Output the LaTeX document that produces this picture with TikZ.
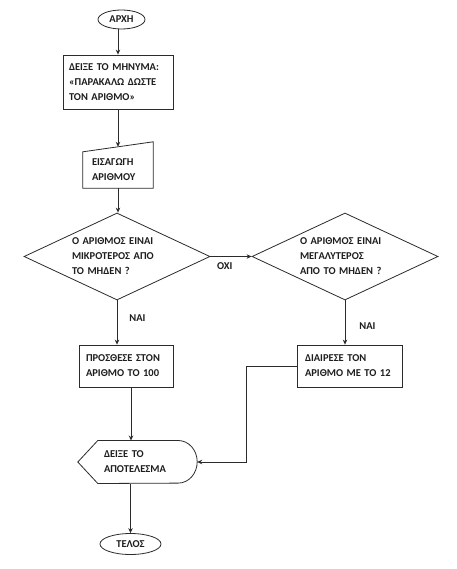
\documentclass[tikz,border=0pt]{standalone}
\usepackage{fontspec}
\setmainfont{Carlito}
\usepackage{xcolor}
\definecolor{cLine}{HTML}{2B2B2B}
\definecolor{cText}{HTML}{1E1E1E}
\usepackage{tikz}
\usetikzlibrary{positioning,arrows.meta,shapes.geometric,calc}
\tikzset{
  fc-font/.style={font=\fontsize{10.5}{15}\selectfont\bfseries,text=cText},
  node-term/.style={draw=cLine,line width=0.8pt,ellipse,inner sep=0pt,fc-font},
  node-box/.style={draw=cLine,line width=0.8pt,rectangle,inner sep=0pt,
    align=left,fc-font},
  node-dec/.style={draw=cLine,line width=0.8pt,diamond,aspect=2.14,
    inner sep=0pt,align=left,text width=90pt,fc-font},
  node-bare/.style={rectangle,inner sep=0pt,align=left,fc-font},
  node-lbl/.style={inner sep=0pt,fc-font},
  arrow/.style={-{Stealth[length=5pt,width=4.5pt]},line width=0.8pt,draw=cLine},
  outline/.style={line width=0.8pt,draw=cLine,line join=miter},
}

\begin{document}
\begin{tikzpicture}[x=1pt,y=-1pt]
  \useasboundingbox[fill=white] (0,0) rectangle (456,569);

  % main column
  \node[node-term,minimum width=47pt,minimum height=19pt] (start) at (121.5,19.5) {ΑΡΧΗ};
  \node[node-box,minimum width=110pt,minimum height=54pt,text width=98pt] (msg) at (118,82)
    {ΔΕΙΞΕ ΤΟ ΜΗΝΥΜΑ:\\«ΠΑΡΑΚΑΛΩ ΔΩΣΤΕ\\ΤΟΝ ΑΡΙΘΜΟ»};
  \node[node-bare,minimum width=70pt,minimum height=36pt,text width=52pt] (input) at (118,170)
    {ΕΙΣΑΓΩΓΗ\\ΑΡΙΘΜΟΥ};
  \draw[outline] (input.south west) -- (input.north west)
    -- ([yshift=10pt]input.north east) -- (input.south east) -- cycle;
  \coordinate (input-top) at ([yshift=5pt]input.north);

  \node[node-dec,minimum width=186pt,minimum height=87pt] (dec-neg) at (117,256.5)
    {Ο ΑΡΙΘΜΟΣ ΕΙΝΑΙ\\ΜΙΚΡΟΤΕΡΟΣ ΑΠΟ\\ΤΟ ΜΗΔΕΝ ?};
  \node[node-dec,minimum width=186pt,minimum height=87pt] (dec-pos) at (345,256.5)
    {Ο ΑΡΙΘΜΟΣ ΕΙΝΑΙ\\ΜΕΓΑΛΥΤΕΡΟΣ\\ΑΠΟ ΤΟ ΜΗΔΕΝ ?};

  \node[node-box,minimum width=94pt,minimum height=42pt,text width=80pt] (add) at (126,366)
    {ΠΡΟΣΘΕΣΕ ΣΤΟΝ\\ΑΡΙΘΜΟ ΤΟ 100};
  \node[node-box,minimum width=105pt,minimum height=42pt,text width=89pt] (div) at (349.5,366)
    {ΔΙΑΙΡΕΣΕ ΤΟΝ\\ΑΡΙΘΜΟ ΜΕ ΤΟ 12};

  \node[node-bare,minimum width=80pt,minimum height=42.6pt,text width=68pt] (show) at (138,462)
    {ΔΕΙΞΕ ΤΟ\\ΑΠΟΤΕΛΕΣΜΑ};
  \draw[outline] (show.north west) -- (show.north east)
    arc[start angle=90,end angle=-90,x radius=19pt,y radius=21.3pt]
    -- (show.south west) -- ([xshift=-20pt]show.west) -- cycle;
  \coordinate (show-right) at ([xshift=19pt]show.east);

  \node[node-term,minimum width=61pt,minimum height=21pt] (end) at (130.5,544) {ΤΕΛΟΣ};

  % connectors
  \draw[arrow] (start.south -| msg.north) -- (msg.north);
  \draw[arrow] (msg.south) -- (msg.south |- input-top);
  \draw[arrow] (input.south) -- (input.south |- dec-neg.north);
  \draw[arrow] (dec-neg.east) -- node[node-lbl,below=6pt,pos=0.35] {ΟΧΙ} (dec-pos.west);
  \draw[arrow] (dec-neg.south) -- node[node-lbl,right=12pt,pos=0.4] {ΝΑΙ} (dec-neg.south |- add.north);
  \draw[arrow] (dec-pos.south) -- node[node-lbl,right=14pt,pos=0.58] {ΝΑΙ} (dec-pos.south |- div.north);
  \draw[arrow] ([xshift=5pt]add.south) -- ([xshift=5pt]add.south |- show.north);
  \draw[arrow] (end.north |- show.south) -- (end.north);
  \draw[arrow] (div.west) -- ++(-50pt,0) |- (show-right);
\end{tikzpicture}
\end{document}
